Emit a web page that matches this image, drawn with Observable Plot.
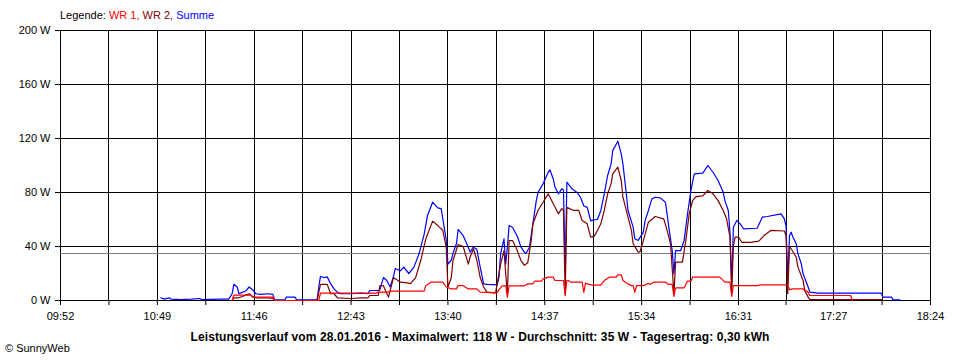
<!DOCTYPE html>
<html><head><meta charset="utf-8">
<script src="https://cdn.jsdelivr.net/npm/d3@7"></script>
<script src="https://cdn.jsdelivr.net/npm/@observablehq/plot@0.6"></script>
<style>
body{margin:0;background:#fff;font-family:"Liberation Sans",Arial,sans-serif;color:#000;}
#wrap{position:relative;width:960px;height:360px;overflow:hidden;background:#fff;}
#chart{position:absolute;left:0;top:0;}
#legend{position:absolute;left:60px;top:9px;font-size:11px;line-height:13px;white-space:nowrap;}
#title{position:absolute;left:0;width:960px;top:330px;text-align:center;font-size:12px;font-weight:bold;line-height:14px;white-space:nowrap;letter-spacing:0.1px;}
#copy{position:absolute;left:5px;top:342px;font-size:11px;line-height:13px;}
</style></head><body>
<div id="wrap"><div id="chart"></div><div id="legend"></div><div id="title"></div><div id="copy"></div></div>
<script>
// ---- data ----
const tickLabels = ["09:52","10:49","11:46","12:43","13:40","14:37","15:34","16:31","17:27","18:24"];
const yTicks = [0, 40, 80, 120, 160, 200];
const seriesNames = ["WR 1", "WR 2", "Summe"];
const seriesColors = ["#ff0000", "#800000", "#0000ff"];
const datum = "28.01.2016";
const maxWert = 118;
const durchschnitt = 35;
const tagesertrag = "0,30";

const summe = [["10:51",2],["10:53",1],["10:56",2],["10:57",1],["11:03",0.7],["11:09",1],["11:14",1.5],["11:15",0.7],["11:26",1],["11:31",1],["11:33",5],["11:34",12],["11:36",10],["11:37",5],["11:39",6],["11:41",7],["11:43",10],["11:45",8],["11:47",5],["11:50",4.5],["11:54",5],["11:57",4.5],["11:58",0.5],["12:04",0.5],["12:05",2.5],["12:10",2.5],["12:11",0.5],["12:23",0.5],["12:24",10],["12:25",17.8],["12:27",17],["12:29",17.5],["12:31",12.3],["12:33",8.6],["12:35",6],["12:37",5],["12:43",5],["12:49",5.5],["12:53",5],["12:54",7.4],["12:59",7.4],["13:00",8],["13:02",17],["13:04",14.8],["13:06",10],["13:08",18],["13:09",23.7],["13:12",22],["13:14",24.7],["13:17",20],["13:20",24.7],["13:23",34.6],["13:26",49],["13:28",63],["13:31",72.8],["13:34",68.6],["13:36",68],["13:37",60.5],["13:39",45],["13:40",27],["13:42",30],["13:43",35],["13:45",42],["13:46",52.6],["13:49",48],["13:52",39.5],["13:53",35.8],["13:55",39.5],["13:57",38],["13:59",24.7],["14:01",12.3],["14:03",11.9],["14:09",11.6],["14:10",17],["14:11",34.6],["14:13",45.7],["14:14",27],["14:15",39.5],["14:16",55.5],["14:18",54.3],["14:21",47],["14:23",39.5],["14:25",35.8],["14:26",35],["14:28",39.5],["14:30",56.8],["14:32",74],["14:33",80],["14:36",86.4],["14:39",95],["14:40",96.8],["14:42",90],["14:43",84],["14:45",79],["14:47",82.7],["14:48",82],["14:49",20],["14:50",87.6],["14:53",82.7],["14:56",80],["14:58",76.5],["15:00",70],["15:02",69],["15:04",59],["15:06",59.7],["15:08",60],["15:10",66.7],["15:12",79],["15:14",92.6],["15:16",101],["15:17",111],["15:20",118],["15:22",108.6],["15:23",101],["15:25",79],["15:26",66.7],["15:29",54.3],["15:30",45.7],["15:32",44.5],["15:35",50.6],["15:36",59],["15:38",66.7],["15:40",75.3],["15:42",76.5],["15:45",76],["15:48",72.8],["15:49",64],["15:50",54.3],["15:52",37],["15:53",19.8],["15:54",37],["15:57",37],["15:59",44.4],["16:01",64],["16:03",81.5],["16:05",93.8],["16:10",94.3],["16:13",100],["16:16",95],["16:19",88.9],["16:22",80.2],["16:23",74],["16:25",66.7],["16:26",50],["16:27",12.3],["16:28",54.3],["16:30",59.3],["16:32",56.8],["16:34",53],["16:42",53.5],["16:45",61.7],["16:48",62.2],["16:56",64.2],["16:58",60.5],["16:59",55],["17:00",14],["17:01",48],["17:02",50.6],["17:03",47],["17:05",42],["17:06",34.6],["17:08",27],["17:09",19.8],["17:12",10],["17:13",6.2],["17:18",5.4],["17:55",5.4],["17:56",2.5],["18:01",2.5],["18:02",0.5],["18:06",0.5]];

const wr2 = [["11:33",0],["11:34",2],["11:37",2],["11:39",3],["11:41",4],["11:43",5],["11:45",3],["11:47",2],["11:54",2],["11:57",1.5],["11:58",0],["12:23",0],["12:24",6],["12:25",11.9],["12:29",11.9],["12:31",5],["12:33",5],["12:35",2],["12:43",1.5],["12:49",2],["12:53",2],["12:54",3.7],["12:59",3.7],["13:00",11],["13:02",11],["13:05",2.5],["13:08",17],["13:12",13.6],["13:16",13],["13:18",12.5],["13:21",17],["13:24",29.6],["13:27",45.7],["13:31",58.8],["13:34",55.5],["13:37",52],["13:39",39.5],["13:40",10],["13:42",17],["13:43",29.6],["13:46",41.5],["13:49",40],["13:52",27],["13:53",32],["13:55",38.3],["13:57",30],["13:59",17],["14:01",10],["14:03",6.2],["14:08",5.7],["14:09",12.3],["14:11",27],["14:13",37],["14:14",20],["14:15",5],["14:16",44.4],["14:18",44.4],["14:20",39.5],["14:23",29.6],["14:25",26],["14:27",28],["14:29",44.4],["14:30",56.8],["14:33",66.7],["14:36",72.8],["14:39",79],["14:42",71.6],["14:45",64.2],["14:47",68],["14:48",67],["14:49",4],["14:50",69],["14:54",66.7],["14:57",66.7],["14:59",59.3],["15:02",56.8],["15:04",47],["15:06",47.5],["15:08",51.9],["15:10",56.8],["15:12",66.7],["15:14",79],["15:16",86.4],["15:17",93.8],["15:20",98.8],["15:22",88.9],["15:23",76.5],["15:26",61.7],["15:28",51.9],["15:29",42],["15:32",35.8],["15:33",36],["15:35",44.4],["15:38",58],["15:42",62.2],["15:47",60.5],["15:49",51.9],["15:51",42],["15:53",5],["15:54",28.4],["15:58",28.4],["16:00",44.4],["16:02",64.2],["16:04",74],["16:06",77],["16:10",77.5],["16:13",81.5],["16:16",79],["16:19",74],["16:22",66.7],["16:24",60.5],["16:26",47],["16:27",5],["16:28",40],["16:29",47],["16:31",47],["16:33",43],["16:38",43],["16:43",44],["16:46",48.1],["16:50",51.9],["16:58",51.5],["16:59",48],["17:00",5],["17:01",40],["17:02",38.3],["17:05",32],["17:06",24.7],["17:09",14.8],["17:10",7.4],["17:12",2.5],["17:13",0.7],["17:55",0.7],["17:56",0]];

const wr1 = [["11:33",0],["11:34",4],["11:44",4],["11:45",2.5],["11:57",2.5],["11:58",0],["12:24",0],["12:25",5.4],["12:58",5.4],["12:59",6.2],["13:05",6.2],["13:06",6.9],["13:26",6.9],["13:27",11],["13:30",13.6],["13:37",13.6],["13:39",10],["13:42",8.6],["13:45",8.6],["13:46",11],["13:49",11],["13:52",8.6],["13:57",8.6],["13:59",6.2],["14:09",5.7],["14:10",7.9],["14:12",10.9],["14:14",10.9],["14:15",2.5],["14:16",10.9],["14:25",10.9],["14:27",12.3],["14:30",12.3],["14:31",14.3],["14:35",14.3],["14:36",16],["14:39",17.3],["14:42",17.3],["14:43",14.8],["14:48",14.8],["14:49",4],["14:50",14.8],["14:51",14.8],["14:52",13.6],["14:59",13.6],["15:00",6],["15:01",13],["15:02",12.3],["15:05",11.4],["15:10",11.4],["15:12",14.8],["15:15",17.3],["15:19",17.3],["15:20",19],["15:22",19],["15:23",14.8],["15:26",12.3],["15:28",11],["15:29",11],["15:30",6],["15:31",11],["15:35",11],["15:38",12.8],["15:39",11.9],["15:41",13.6],["15:48",13.6],["15:50",11.9],["15:52",11.9],["15:53",3],["15:54",9.4],["15:59",9.4],["16:01",14.3],["16:03",14.3],["16:04",17.3],["16:20",17.3],["16:23",13.6],["16:26",13.6],["16:27",3],["16:28",11],["16:42",11],["16:44",11.6],["17:00",11.6],["17:01",8],["17:03",8.6],["17:09",8.6],["17:12",6.2],["17:13",3.7],["17:37",3.7],["17:38",0]];

// ---- helpers ----
const toMin = s => { const [h, m] = s.split(":").map(Number); return h * 60 + m; };
const labelTimes = tickLabels.map(toMin);
const labelByTime = new Map(labelTimes.map((t, i) => [t, tickLabels[i]]));
const gridTimes = [];
labelTimes.forEach((t, i) => { gridTimes.push(t); if (i < labelTimes.length - 1) gridTimes.push((t + labelTimes[i + 1]) / 2); });

const lineOf = (data, color) => Plot.line(data, {x: d => toMin(d[0]), y: d => d[1], stroke: color, strokeWidth: 1.2});

const chart = Plot.plot({
  width: 960, height: 330,
  marginLeft: 60, marginRight: 30, marginTop: 30, marginBottom: 30,
  style: {fontFamily: '"Liberation Sans", Arial, sans-serif', fontSize: "11px", background: "#fff", color: "#000"},
  x: {domain: [labelTimes[0], labelTimes[labelTimes.length - 1]]},
  y: {domain: [yTicks[0], yTicks[yTicks.length - 1]]},
  marks: [
    Plot.ruleX(gridTimes, {stroke: "#000", strokeWidth: 1, shapeRendering: "crispEdges"}),
    Plot.ruleY(yTicks, {stroke: "#000", strokeWidth: 1, shapeRendering: "crispEdges"}),
    Plot.ruleY([durchschnitt], {stroke: "#808080", strokeWidth: 1, shapeRendering: "crispEdges"}),
    lineOf(summe, seriesColors[2]),
    lineOf(wr2, seriesColors[1]),
    lineOf(wr1, seriesColors[0]),
    Plot.axisY({ticks: yTicks, tickSize: 5, tickPadding: 5, tickFormat: d => `${d} W`, label: null, stroke: "#000"}),
    Plot.axisX({ticks: gridTimes, tickSize: 5, tickPadding: 7, tickFormat: d => labelByTime.get(d) ?? "", label: null, stroke: "#000"})
  ]
});
document.getElementById("chart").appendChild(chart);

const leg = document.getElementById("legend");
leg.append("Legende: ");
seriesNames.forEach((n, i) => {
  const s = document.createElement("span");
  s.style.color = seriesColors[i];
  s.textContent = n + (i < seriesNames.length - 1 ? ", " : "");
  leg.appendChild(s);
});
document.getElementById("title").textContent =
  `Leistungsverlauf vom ${datum} - Maximalwert: ${maxWert} W - Durchschnitt: ${durchschnitt} W - Tagesertrag: ${tagesertrag} kWh`;
document.getElementById("copy").textContent = "© SunnyWeb";
</script>
</body></html>
